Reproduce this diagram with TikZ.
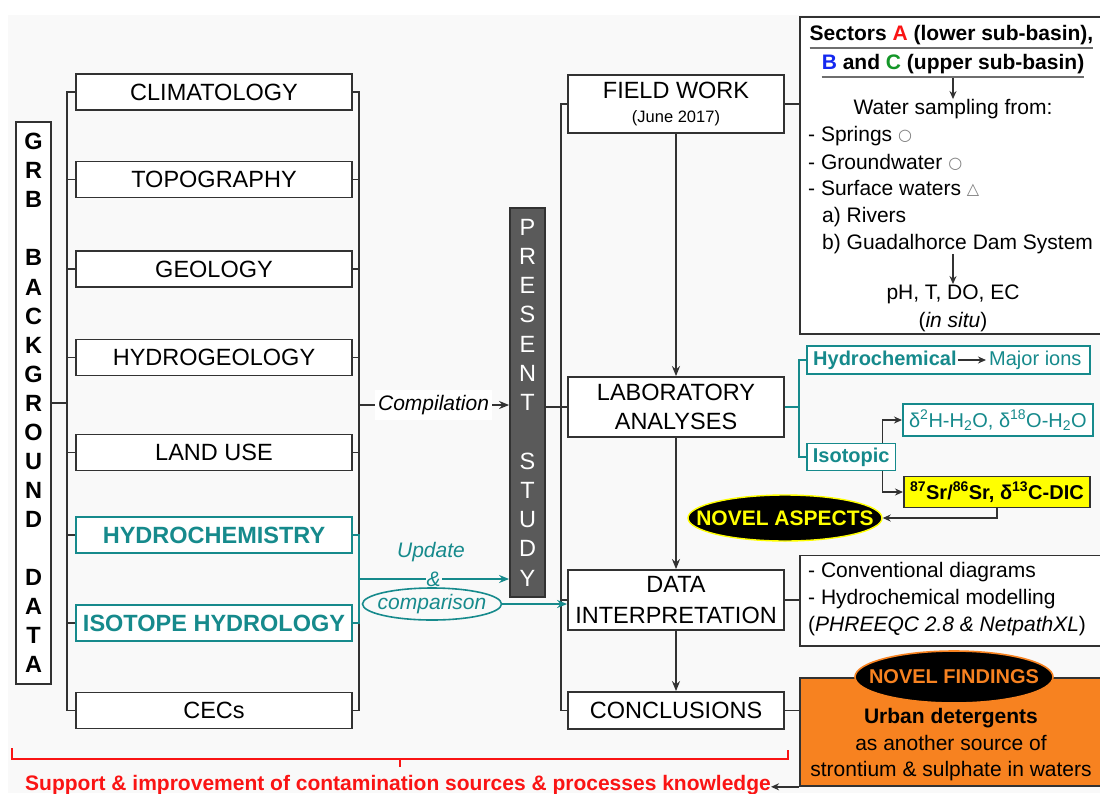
\documentclass[tikz,border=0pt]{standalone}
\usepackage{fontspec}
\setmainfont{Liberation Sans}
\newfontfamily\dejavu{DejaVu Sans}
\usetikzlibrary{arrows.meta,shapes.geometric,calc}
\definecolor{tealc}{RGB}{22,138,140}
\definecolor{linec}{RGB}{50,50,50}
\definecolor{bgc}{RGB}{249,249,249}
\definecolor{orangec}{RGB}{247,130,32}
\definecolor{psgrey}{RGB}{90,90,90}
\definecolor{redc}{RGB}{250,20,20}
\definecolor{bluec}{RGB}{20,40,240}
\definecolor{greenc}{RGB}{20,150,40}
\definecolor{yellowc}{RGB}{255,255,0}
\definecolor{ulc}{RGB}{110,110,110}
\newcommand{\fsz}[1]{\fontsize{#1}{#1}\selectfont}
\newcommand{\shp}[1]{\raisebox{1pt}{\dejavu\fontsize{16}{16}\selectfont\color{gray}#1}}
\tikzset{
 lbox/.style={draw=linec, line width=1.8pt, fill=white, minimum width=276pt, minimum height=36pt, inner sep=0pt, font=\fsz{23.5}},
 tlbox/.style={lbox, draw=tealc, text=tealc, font=\fsz{23.5}\bfseries},
 rcbox/.style={draw=linec, line width=1.8pt, fill=white, minimum width=216pt, inner sep=0pt, align=center, font=\fontsize{23.5}{29}\selectfont},
 vbox/.style={draw=linec, line width=1.8pt, minimum width=35pt, inner sep=0pt, align=center},
 bigbox/.style={draw=linec, line width=1.8pt, fill=white, anchor=north west, minimum width=320pt, inner sep=0pt},
 conn/.style={draw=linec, line width=1.8pt},
 tconn/.style={draw=tealc, line width=1.8pt},
 arr/.style={conn, -{Stealth[length=10pt,width=8pt]}},
 tarr/.style={tconn, -{Stealth[length=10pt,width=8pt]}},
 sarr/.style={conn, -{Stealth[length=8pt,width=7pt]}},
 txt/.style={inner sep=0pt, text height=15pt, text depth=4.5pt},
 redl/.style={draw=redc, line width=2pt},
 ul/.style={draw=ulc, line width=1.8pt},
}
\begin{document}
\begin{tikzpicture}[x=1pt,y=-1pt]
\path[use as bounding box] (0,0) rectangle (1100,793);
\clip (0,0) rectangle (1100,793);
\fill[white] (0,0) rectangle (1100,793);
\fill[bgc] (8,15) rectangle (1100,793);

% ---------- left column ----------
\node[lbox] (clim) at (214,92) {CLIMATOLOGY};
\node[lbox] (topo) at (214,179.5) {TOPOGRAPHY};
\node[lbox] (geol) at (214,269) {GEOLOGY};
\node[lbox] (hgeo) at (214,357.5) {HYDROGEOLOGY};
\node[lbox] (land) at (214,452.5) {LAND USE};
\node[tlbox] (hchem) at (214,535) {HYDROCHEMISTRY};
\node[tlbox] (isoh) at (214,623) {ISOTOPE HYDROLOGY};
\node[lbox] (cecs) at (214,710.5) {CECs};

\node[vbox, fill=white, minimum height=562pt, font=\fontsize{23.5}{29.05}\selectfont\bfseries] (grb) at (33.5,403)
 {G\\R\\B\\[29.05pt]B\\A\\C\\K\\G\\R\\O\\U\\N\\D\\[29.05pt]D\\A\\T\\A};

\draw[conn] (clim.west) -- ++(-8,0) |- (cecs.west);
\foreach \n in {topo,geol,hgeo,land,hchem,isoh} \draw[conn] (\n.west) -- ++(-8,0);
\coordinate (lbr) at (68,403);
\draw[conn] (grb.east) -- (lbr);

\draw[conn] (clim.east) -- ++(6,0) |- (cecs.east);
\foreach \n in {topo,geol,hgeo,land} \draw[conn] (\n.east) -- ++(6,0);
\draw[tconn] (hchem.east) -- ++(6,0) |- (isoh.east);

% ---------- present study ----------
\node[vbox, fill=psgrey, minimum height=389pt, text=white, font=\fontsize{23.5}{29.25}\selectfont] (ps) at (527.5,402.5)
 {P\\R\\E\\S\\E\\N\\T\\[29.25pt]S\\T\\U\\D\\Y};

\coordinate (rbc) at (358,405);
\draw[arr] (rbc) -- (rbc -| ps.west) node[midway, fill=white, inner xsep=3pt, inner ysep=5pt, font=\fsz{21}\itshape, text=black] (comp) {Compilation};

\coordinate (rbu) at (358,579);
\draw[tarr] (rbu) -- (rbu -| ps.west) node[midway, fill=bgc, inner sep=1pt, font=\fsz{21}\itshape, text=tealc] (amp) {\&};
\node[font=\fsz{21}\itshape, text=tealc] (upd) at (431,552) {Update};
\node[ellipse, draw=tealc, line width=1.6pt, minimum width=139pt, minimum height=32pt, inner sep=0pt] (cmp) at (432,604) {};
\node[font=\fsz{21}\itshape, text=tealc] (cmpt) at (cmp) {comparison};

% ---------- right column ----------
\node[rcbox, minimum height=58pt, font=\fontsize{23.5}{24}\selectfont] (field) at (676,104) {FIELD WORK\\{\fsz{16.5}(June 2017)}};
\node[rcbox, minimum height=60pt] (lab) at (676,407) {LABORATORY\\ANALYSES};
\node[rcbox, minimum height=60pt, font=\fontsize{23.5}{31}\selectfont] (data) at (676,600) {DATA\\INTERPRETATION};
\node[rcbox, minimum height=37pt] (concl) at (676,710.5) {CONCLUSIONS};

\draw[arr] (field.south) -- (lab.north);
\draw[arr] (lab.south) -- (data.north);
\draw[arr] (data.south) -- (concl.north);

\draw[conn] (field.west) -- ++(-6,0) |- (concl.west);
\draw[conn] (lab.west) -- ++(-6,0);
\draw[conn] (data.west) -- ++(-6,0);
\draw[conn] (ps.east |- lab.west) -- (lab.west);
\draw[tarr] (cmp.east) -- (cmp.east -| data.west);

% ---------- sectors box ----------
\node[bigbox, minimum height=317pt] (sect) at (799,16) {};
\draw[conn] (field.east) -- (field.east -| sect.west);

\node[txt, font=\fsz{21}\bfseries] (s1) at (951.5,35) {Sectors \textcolor{redc}{A} (lower sub-basin),};
\draw[ul] ($(s1.south west)+(0,3)$) -- ($(s1.south east)+(0,3)$);
\node[txt, font=\fsz{21}\bfseries] (s2) at (953,64) {\textcolor{bluec}{B} and \textcolor{greenc}{C} (upper sub-basin)};
\draw[ul] ($(s2.south west)+(0,3)$) -- ($(s2.south east)+(0,3)$);
\node[txt, font=\fsz{21}] (water) at (953,109) {Water sampling from:};
\draw[sarr] ($(s2.south)+(0,4)$) -- (water.north);
\node[txt, anchor=west, font=\fsz{21}] (spr) at (808,136) {- Springs \shp{○}};
\node[txt, anchor=west, font=\fsz{21}] (gw) at (808,164) {- Groundwater \shp{○}};
\node[txt, anchor=west, font=\fsz{21}] (sw) at (808,190) {- Surface waters \shp{△}};
\node[txt, anchor=west, font=\fsz{21}] (riv) at (822,217) {a) Rivers};
\node[txt, anchor=west, font=\fsz{21}] (gdam) at (822,244) {b) Guadalhorce Dam System};
\node[txt, font=\fsz{21}] (ph) at (953,294) {pH, T, DO, EC};
\draw[sarr] (gdam.south -| ph.north) -- (ph.north);
\node[txt, font=\fsz{21}] (insitu) at (953,322) {(\textit{in situ})};

% ---------- laboratory branches ----------
\coordinate (tbr) at (799,407);
\draw[tconn] (lab.east) -- (tbr);
\node[draw=tealc, line width=1.8pt, fill=white, minimum width=283pt, minimum height=28pt, anchor=west, inner sep=0pt] (hcbox) at (806,360) {};
\node[txt, anchor=west, font=\fsz{20}\bfseries, text=tealc] (hc) at (813,360) {Hydrochemical};
\node[txt, anchor=west, font=\fsz{20}, text=tealc] (mi) at (989,360) {Major ions};
\draw[sarr] ($(hc.east)+(1,0)$) -- ($(mi.west)+(-3,0)$);
\node[draw=tealc, line width=1.8pt, fill=white, anchor=west, inner xsep=6pt, inner ysep=0pt, minimum height=27pt, text=tealc, font=\fsz{20}\bfseries] (isob) at (806,457) {Isotopic};
\draw[tconn] (hcbox.west) -- ++(-7,0) |- (isob.west);

\node[draw=tealc, line width=1.8pt, fill=white, anchor=west, minimum width=190pt, minimum height=32pt, inner sep=0pt, text=tealc, font=\fsz{20}] (dbox) at (902,420)
 {δ\textsuperscript{2}H-H\textsubscript{2}O, δ\textsuperscript{18}O-H\textsubscript{2}O};
\node[draw=linec, fill=yellowc, line width=1.8pt, anchor=west, minimum width=186pt, minimum height=31pt, inner sep=0pt, font=\fsz{20}\bfseries] (srbox) at (903,492)
 {\textsuperscript{87}Sr/\textsuperscript{86}Sr, δ\textsuperscript{13}C-DIC};
\draw[sarr] ($(isob.north east)+(-14,0)$) |- (dbox.west);
\draw[sarr] ($(isob.south east)+(-14,0)$) |- (srbox.west);

\node[ellipse, fill=black, draw=yellowc, line width=1.4pt, minimum width=194pt, minimum height=46pt, inner sep=0pt] (nova) at (785,518) {};
\node[text=yellowc, font=\fsz{21}\bfseries] (novat) at (nova) {NOVEL ASPECTS};
\draw[sarr] (srbox.south) |- (nova.east);

% ---------- interpretation box ----------
\node[bigbox, minimum height=90.5pt] (conv) at (799,554.5) {};
\draw[conn] (data.east) -- (data.east -| conv.west);
\node[txt, anchor=west, font=\fsz{21}] (cv1) at (808,572) {- Conventional diagrams};
\node[txt, anchor=west, font=\fsz{21}] (cv2) at (808,599) {- Hydrochemical modelling};
\node[txt, anchor=west, font=\fsz{21}] (cv3) at (808,626) {(\textit{PHREEQC 2.8 \& NetpathXL})};

% ---------- findings ----------
\node[bigbox, fill=orangec, minimum height=108pt] (orng) at (799,677) {};
\draw[conn] (concl.east) -- (concl.east -| orng.west);
\node[ellipse, fill=black, draw=orangec, line width=1.6pt, minimum width=198pt, minimum height=52pt, inner sep=0pt] (novf) at (954,677) {};
\node[text=orangec, font=\fsz{20}\bfseries] (novft) at (novf) {NOVEL FINDINGS};
\node[txt, font=\fsz{21}\bfseries] (o1) at (951,718) {Urban detergents};
\node[txt, font=\fsz{21}] (o2) at (951,745) {as another source of};
\node[txt, font=\fsz{21}] (o3) at (951,771) {strontium \& sulphate in waters};

% ---------- bottom bracket ----------
\draw[redl] (12,748) |- (788,759) -- (788,750);
\draw[redl] (400,759) -- (400,767);
\node[txt, text=redc, font=\fsz{21}\bfseries] (supp) at (398,785) {Support \& improvement of contamination sources \& processes knowledge};
\draw[sarr] (orng.south west) -- (orng.south west -| supp.east);
\end{tikzpicture}
\end{document}
